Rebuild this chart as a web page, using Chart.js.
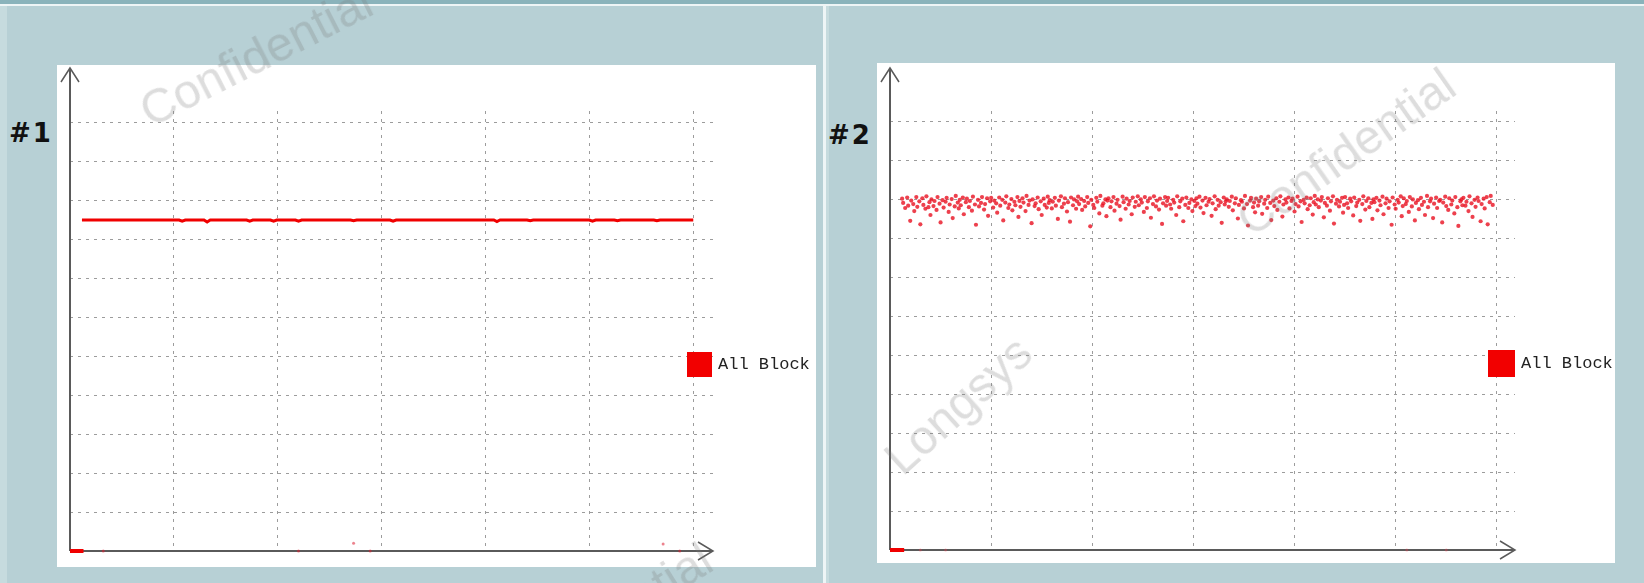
<!DOCTYPE html>
<html>
<head>
<meta charset="utf-8">
<script src="https://cdn.jsdelivr.net/npm/chart.js@4.4.1/dist/chart.umd.min.js"></script>
<style>
  html, body { margin: 0; padding: 0; }
  #page { position: relative; width: 1644px; height: 583px; background: #b7d0d5; overflow: hidden; font-family: "DejaVu Sans", sans-serif; }
  .strip { position: absolute; }
  .panel { position: absolute; background: #fff; }
  .panel canvas { display: block; }
  .tag { position: absolute; font: bold 26px/26px "DejaVu Sans", sans-serif; color: #111; letter-spacing: 2px; }
  .legend { position: absolute; display: flex; align-items: center; gap: 6px; }
  .legend .swatch { display: inline-block; background: #f20000; }
  .legend .lbl { font: 17px "Liberation Mono", monospace; color: #222; }
  .wm { position: absolute; font: 48px "Liberation Sans", sans-serif; color: rgba(120,120,120,0.25); white-space: nowrap; transform-origin: center center; pointer-events: none; }
</style>
</head>
<body>
<div id="page">
  <div class="strip" style="left:0;top:0;width:1644px;height:4px;background:#8ab3bb"></div>
  <div class="strip" style="left:0;top:4px;width:1644px;height:2px;background:#eef5f6"></div>
  <div class="strip" style="left:0;top:6px;width:7px;height:577px;background:#c6dbde"></div>
  <div class="strip" style="left:823px;top:6px;width:3px;height:577px;background:#eef5f6"></div>
  <div class="strip" style="left:826px;top:6px;width:3px;height:577px;background:#c6dbde"></div>

  <div class="panel" style="left:57px;top:65px;width:759px;height:502px"><canvas id="chart1" width="759" height="502" style="width:759px;height:502px"></canvas></div>
  <div class="panel" style="left:877px;top:63px;width:738px;height:500px"><canvas id="chart2" width="738" height="500" style="width:738px;height:500px"></canvas></div>

  <div class="tag" style="left:9px;top:120px">#1</div>
  <div class="tag" style="left:828px;top:122px">#2</div>

  <div class="legend" id="legend1" style="left:687px;top:352px"><span class="swatch" style="width:25px;height:25px"></span><span class="lbl"></span></div>
  <div class="legend" id="legend2" style="left:1488px;top:350px"><span class="swatch" style="width:27px;height:27px"></span><span class="lbl"></span></div>

  <div class="wm" style="left:256px;top:56px;transform:translate(-50%,-50%) rotate(-27deg)">Confidential</div>
  <div class="wm" style="left:1346px;top:152px;transform:translate(-50%,-50%) rotate(-35deg)">Confidential</div>
  <div class="wm" style="left:600px;top:622px;transform:translate(-50%,-50%) rotate(-32deg)">Confidential</div>
  <div class="wm" style="left:958px;top:405px;transform:translate(-50%,-50%) rotate(-42deg)">Longsys</div>
</div>

<script>
const seriesName = "All Block";

// #1 : flat trace around 8.5 with a few small dips
const p1X = [0.115, 0.5, 1.05, 1.08, 1.11, 1.29, 1.32, 1.35, 1.7, 1.73,
             1.76, 1.93, 1.96, 1.99, 2.17, 2.2, 2.23, 2.7, 2.73, 2.76,
             3.08, 3.11, 3.14, 3.6, 4.08, 4.11, 4.14, 4.4, 4.43, 4.46,
             5.0, 5.03, 5.06, 5.24, 5.27, 5.3, 5.62, 5.65, 5.68, 6.0];
const p1Y = [8.5, 8.5, 8.5, 8.47, 8.5, 8.5, 8.45, 8.5, 8.5, 8.47,
             8.5, 8.5, 8.47, 8.5, 8.5, 8.47, 8.5, 8.5, 8.48, 8.5,
             8.5, 8.47, 8.5, 8.5, 8.5, 8.46, 8.5, 8.5, 8.48, 8.5,
             8.5, 8.47, 8.5, 8.5, 8.48, 8.5, 8.5, 8.48, 8.5, 8.5];
const p1BaseX = [0, 0.13];
const p1BaseY = [0, 0];
const p1LowX = [0.32, 2.2, 2.73, 2.89, 5.71, 5.87];
const p1LowY = [0, 0, 0.2, 0, 0.18, 0];

// #2 : scattered points between ~8.3 and ~9.1
const p2X = [
  0.12,0.13,0.15,0.17,0.18,0.2,0.21,0.23,0.24,0.26,0.27,0.29,0.3,0.32,0.33,0.35,0.36,0.38,0.39,0.4,
  0.41,0.43,0.44,0.46,0.47,0.49,0.5,0.52,0.53,0.55,0.56,0.58,0.59,0.61,0.62,0.64,0.65,0.67,0.68,0.69,
  0.7,0.72,0.73,0.75,0.76,0.78,0.79,0.81,0.82,0.84,0.85,0.87,0.88,0.9,0.91,0.93,0.94,0.96,0.97,0.99,
  1.0,1.02,1.03,1.05,1.06,1.08,1.09,1.11,1.12,1.14,1.15,1.17,1.18,1.2,1.21,1.23,1.24,1.26,1.27,1.28,
  1.29,1.31,1.32,1.34,1.35,1.37,1.38,1.4,1.41,1.43,1.44,1.46,1.47,1.49,1.5,1.52,1.53,1.55,1.56,1.57,
  1.58,1.6,1.61,1.63,1.64,1.66,1.67,1.69,1.7,1.72,1.73,1.75,1.76,1.78,1.79,1.81,1.82,1.84,1.85,1.86,
  1.87,1.89,1.9,1.92,1.93,1.95,1.96,1.98,1.99,2.01,2.02,2.04,2.05,2.07,2.08,2.1,2.11,2.13,2.14,2.15,
  2.16,2.18,2.19,2.21,2.22,2.24,2.25,2.27,2.28,2.3,2.31,2.33,2.34,2.36,2.37,2.39,2.4,2.42,2.43,2.45,
  2.46,2.48,2.49,2.51,2.52,2.54,2.55,2.57,2.58,2.6,2.61,2.63,2.64,2.66,2.67,2.69,2.7,2.72,2.73,2.74,
  2.75,2.77,2.78,2.8,2.81,2.83,2.84,2.86,2.87,2.89,2.9,2.92,2.93,2.95,2.96,2.98,2.99,3.01,3.02,3.03,
  3.04,3.06,3.07,3.09,3.1,3.12,3.13,3.15,3.16,3.18,3.19,3.21,3.22,3.24,3.25,3.27,3.28,3.3,3.31,3.32,
  3.33,3.35,3.36,3.38,3.39,3.41,3.42,3.44,3.45,3.47,3.48,3.5,3.51,3.53,3.54,3.56,3.57,3.59,3.6,3.61,
  3.62,3.64,3.65,3.67,3.68,3.7,3.71,3.73,3.74,3.76,3.77,3.79,3.8,3.82,3.83,3.85,3.86,3.88,3.89,3.91,
  3.92,3.94,3.95,3.97,3.98,4.0,4.01,4.03,4.04,4.06,4.07,4.09,4.1,4.12,4.13,4.15,4.16,4.18,4.19,4.2,
  4.21,4.23,4.24,4.26,4.27,4.29,4.3,4.32,4.33,4.35,4.36,4.38,4.39,4.41,4.42,4.44,4.45,4.47,4.48,4.49,
  4.5,4.52,4.53,4.55,4.56,4.58,4.59,4.61,4.62,4.64,4.65,4.67,4.68,4.7,4.71,4.73,4.74,4.76,4.77,4.78,
  4.79,4.81,4.82,4.84,4.85,4.87,4.88,4.9,4.91,4.93,4.94,4.96,4.97,4.99,5.0,5.02,5.03,5.05,5.06,5.07,
  5.08,5.1,5.11,5.13,5.14,5.16,5.17,5.19,5.2,5.22,5.23,5.25,5.26,5.28,5.29,5.31,5.32,5.34,5.35,5.37,
  5.38,5.4,5.41,5.43,5.44,5.46,5.47,5.49,5.5,5.52,5.53,5.55,5.56,5.58,5.59,5.61,5.62,5.64,5.65,5.66,
  5.67,5.69,5.7,5.72,5.73,5.75,5.76,5.78,5.79,5.81,5.82,5.84,5.85,5.87,5.88,5.9,5.91,5.93,5.94,5.96
];
const p2Y = [
  9.02,8.91,8.78,9.05,8.84,8.45,8.97,8.88,8.7,9.06,8.81,8.95,8.36,9.03,8.86,8.76,9.08,8.8,8.93,8.6,
  9.0,8.83,8.96,8.73,9.06,8.89,8.41,8.98,8.79,8.94,9.04,8.68,8.87,9.01,8.52,8.82,9.09,8.92,8.77,8.99,
  8.85,9.05,8.62,8.93,9.02,8.8,8.96,8.71,9.07,8.87,8.35,8.99,8.82,8.91,9.06,8.74,8.88,9.03,8.58,8.95,
  9.04,8.79,8.97,8.9,8.66,9.05,8.84,8.99,8.46,8.92,9.08,8.78,8.87,9.01,8.72,8.94,8.85,9.06,8.55,8.96,
  8.81,9.03,8.92,8.7,9.09,8.86,8.97,8.39,9.0,8.83,8.9,9.05,8.75,8.95,8.6,9.02,8.86,8.79,9.07,8.91,
  8.98,8.77,8.94,9.04,8.84,8.5,8.97,9.08,8.8,8.89,9.03,8.69,8.93,8.43,9.05,8.85,9.0,8.76,8.95,9.07,
  8.88,9.01,8.73,8.96,8.82,9.06,8.91,8.31,8.99,8.86,8.78,9.04,8.94,8.64,9.09,8.84,8.9,9.0,8.57,8.97,
  9.03,8.8,8.95,9.06,8.71,8.89,8.99,8.83,8.48,9.07,8.93,8.76,9.02,8.87,8.96,8.62,9.05,8.81,8.94,9.08,
  8.85,9.0,8.92,8.68,9.06,8.78,8.95,9.03,8.53,8.88,9.08,8.82,8.97,8.74,9.02,8.37,8.9,9.06,8.84,8.96,
  9.04,8.87,8.76,8.99,8.92,8.6,9.08,8.8,8.95,9.02,8.44,8.86,9.05,8.78,8.91,9.0,8.7,8.96,8.83,9.03,
  8.89,9.07,8.79,8.97,8.65,9.04,8.85,8.94,9.01,8.58,8.9,9.08,8.75,8.99,8.84,8.93,8.4,9.05,8.87,8.95,
  9.0,8.81,8.96,9.07,8.72,8.9,9.03,8.51,8.86,8.98,8.94,8.77,9.09,8.88,8.33,8.97,9.04,8.8,8.92,8.67,
  9.02,8.84,8.95,9.06,8.63,8.89,8.99,8.78,9.07,8.91,8.47,8.97,8.83,9.03,8.73,8.94,9.08,8.56,8.87,9.0,
  8.92,9.05,8.77,8.96,9.02,8.69,8.88,9.07,8.82,8.95,8.42,8.99,8.9,9.05,8.75,8.85,9.03,8.61,8.93,9.09,
  8.87,9.0,8.8,8.97,9.06,8.54,8.91,8.84,9.03,8.71,8.95,9.08,8.38,8.89,8.99,8.82,8.94,9.04,8.66,8.86,
  9.06,8.9,8.78,9.02,8.95,8.59,9.05,8.83,8.92,8.99,8.45,8.88,9.08,8.74,8.96,9.03,8.8,8.91,8.5,9.0,
  8.93,9.04,8.72,8.97,8.85,9.07,8.62,8.9,9.02,8.78,8.95,8.35,9.05,8.87,8.76,8.99,8.92,9.08,8.57,8.83,
  9.03,8.88,8.96,8.68,9.06,8.82,9.0,8.46,8.91,8.98,8.75,9.04,8.86,8.94,8.6,9.09,8.8,8.95,9.02,8.52,
  8.89,9.05,8.78,8.96,8.99,8.41,8.92,9.07,8.83,8.73,9.03,8.87,8.97,8.64,9.06,8.8,8.32,8.95,9.0,8.85,
  9.04,8.84,8.94,8.7,9.08,8.9,8.55,8.99,8.81,9.05,8.96,8.44,8.88,9.02,8.77,9.06,8.36,8.93,9.09,8.86
];
const p2BaseX = [0, 0.14];
const p2BaseY = [0, 0];
const p2LowX = [0.3, 0.55, 5.11, 5.5];
const p2LowY = [0, 0, 0, 0];

function pts(xs, ys) {
  const out = [];
  const n = Math.min(xs.length, ys.length);
  for (let i = 0; i < n; i++) out.push({ x: xs[i], y: ys[i] });
  return out;
}

// axis lines with open arrow heads, drawn under the data
const axisArrows = {
  id: "axisArrows",
  beforeDatasetsDraw(chart, args, opts) {
    const { ctx, chartArea } = chart;
    const left = chartArea.left, right = chartArea.right, bottom = chartArea.bottom;
    const top = opts.top;
    ctx.save();
    ctx.strokeStyle = "#5a5a5a";
    ctx.lineWidth = 2;
    ctx.beginPath();
    ctx.moveTo(left, bottom);
    ctx.lineTo(left, top);
    ctx.moveTo(left, bottom);
    ctx.lineTo(right, bottom);
    ctx.stroke();
    ctx.lineWidth = 1.5;
    ctx.beginPath();
    ctx.moveTo(left - 9, top + 14);
    ctx.lineTo(left, top);
    ctx.lineTo(left + 9, top + 14);
    ctx.moveTo(right - 15, bottom - 9);
    ctx.lineTo(right, bottom);
    ctx.lineTo(right - 15, bottom + 9);
    ctx.stroke();
    ctx.restore();
  }
};

const gridColor = c => (c.tick && c.tick.value === 0) ? "rgba(0,0,0,0)" : "#9c9c9c";

function axis(max) {
  return {
    type: "linear",
    min: 0,
    max: max,
    ticks: { display: false, stepSize: 1, includeBounds: false },
    grid: { color: gridColor, drawTicks: false, lineWidth: 1 },
    border: { display: false, dash: [3, 5] }
  };
}

function makeChart(id, datasets, pad, xMax, yMax, arrowTop) {
  const x = axis(xMax);
  x.afterFit = s => { s.height = 0; };
  const y = axis(yMax);
  y.afterFit = s => { s.width = 0; };
  return new Chart(document.getElementById(id), {
    type: "scatter",
    data: { datasets },
    options: {
      responsive: false,
      animation: false,
      layout: { padding: pad },
      plugins: {
        legend: { display: false },
        tooltip: { enabled: false },
        axisArrows: { top: arrowTop }
      },
      scales: { x, y }
    },
    plugins: [axisArrows]
  });
}

makeChart("chart1", [
  { label: seriesName, data: pts(p1X, p1Y), showLine: true, borderColor: "#f00000", borderWidth: 3, pointRadius: 0, fill: false, clip: false },
  { label: seriesName, data: pts(p1BaseX, p1BaseY), showLine: true, borderColor: "#f00000", borderWidth: 4, pointRadius: 0, clip: false },
  { label: seriesName, data: pts(p1LowX, p1LowY), pointRadius: 1.5, pointBorderWidth: 0, backgroundColor: "rgba(220,30,50,0.55)", clip: false }
], { left: 13, right: 103, top: 46, bottom: 16 }, 6.19, 11.3, 3);

makeChart("chart2", [
  { label: seriesName, data: pts(p2X, p2Y), pointRadius: 2.1, pointBorderWidth: 0, backgroundColor: "rgba(232,16,32,0.8)", clip: false },
  { label: seriesName, data: pts(p2BaseX, p2BaseY), showLine: true, borderColor: "#f00000", borderWidth: 4, pointRadius: 0, clip: false },
  { label: seriesName, data: pts(p2LowX, p2LowY), pointRadius: 1.5, pointBorderWidth: 0, backgroundColor: "rgba(235,60,80,0.35)", clip: false }
], { left: 13, right: 100, top: 48, bottom: 13 }, 6.18, 11.27, 5);

document.querySelector("#legend1 .lbl").textContent = seriesName;
document.querySelector("#legend2 .lbl").textContent = seriesName;
</script>
</body>
</html>
